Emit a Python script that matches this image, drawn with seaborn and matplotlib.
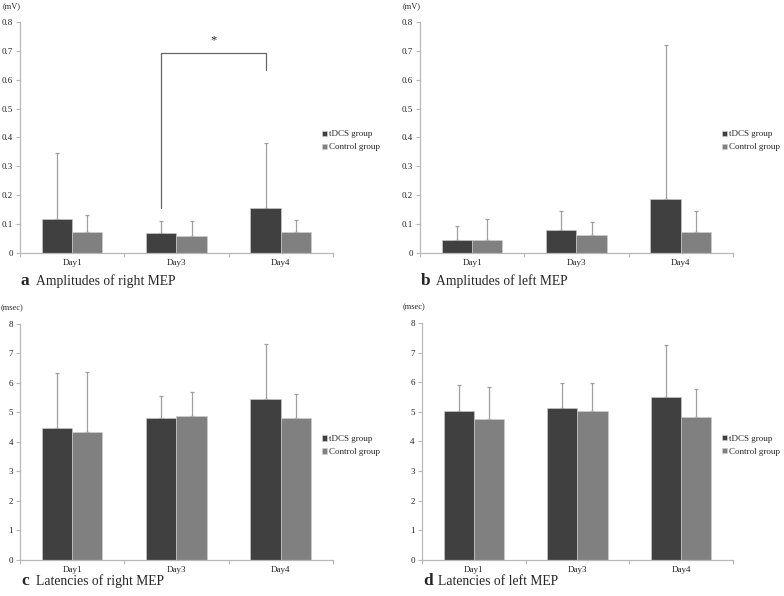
import numpy as np
import pandas as pd
import seaborn as sns
import matplotlib.pyplot as plt

days = ['Day1', 'Day3', 'Day4']
groups = ['tDCS group', 'Control group']

# a: amplitudes of right MEP (mV)
amp_right_tdcs = [0.118, 0.069, 0.157]
amp_right_ctrl = [0.074, 0.060, 0.072]
amp_right_tdcs_sd = [0.228, 0.042, 0.224]
amp_right_ctrl_sd = [0.057, 0.051, 0.043]

# b: amplitudes of left MEP (mV)
amp_left_tdcs = [0.045, 0.078, 0.186]
amp_left_ctrl = [0.046, 0.062, 0.073]
amp_left_tdcs_sd = [0.048, 0.067, 0.535]
amp_left_ctrl_sd = [0.072, 0.044, 0.071]

# c: latencies of right MEP (msec)
lat_right_tdcs = [4.48, 4.83, 5.46]
lat_right_ctrl = [4.33, 4.88, 4.83]
lat_right_tdcs_sd = [1.85, 0.72, 1.87]
lat_right_ctrl_sd = [2.05, 0.81, 0.81]

# d: latencies of left MEP (msec)
lat_left_tdcs = [5.03, 5.14, 5.50]
lat_left_ctrl = [4.76, 5.04, 4.84]
lat_left_tdcs_sd = [0.88, 0.84, 1.77]
lat_left_ctrl_sd = [1.09, 0.94, 0.92]

# significance bracket in panel a (Day3 vs Day4, tDCS)
sig_bracket_y = 0.692
sig_left_low = 0.156
sig_right_low = 0.634
sig_star_y = 0.737

panels = [
    ('a', 'Amplitudes of right MEP', '(mV)', amp_right_tdcs, amp_right_ctrl,
     amp_right_tdcs_sd, amp_right_ctrl_sd, 0.8, 0.1, [0.0255, 0.5755, 0.399, 0.3876], -28),
    ('b', 'Amplitudes of left MEP', '(mV)', amp_left_tdcs, amp_left_ctrl,
     amp_left_tdcs_sd, amp_left_ctrl_sd, 0.8, 0.1, [0.5357, 0.5755, 0.399, 0.3876], -28),
    ('c', 'Latencies of right MEP', '(msec)', lat_right_tdcs, lat_right_ctrl,
     lat_right_tdcs_sd, lat_right_ctrl_sd, 8, 1, [0.0255, 0.0604, 0.399, 0.396], -21),
    ('d', 'Latencies of left MEP', '(msec)', lat_left_tdcs, lat_left_ctrl,
     lat_left_tdcs_sd, lat_left_ctrl_sd, 8, 1, [0.538, 0.0604, 0.397, 0.3977], -21),
]

sns.set_theme(style='white')
plt.rcParams['font.family'] = ['Liberation Serif', 'DejaVu Serif']

palette = {'tDCS group': '#404040', 'Control group': '#808080'}
axis_col = '#b8b8b8'
err_col = '#a0a0a0'

fig = plt.figure(figsize=(7.84, 5.96), dpi=100)

for letter, title, unit, v1, v2, e1, e2, ymax, step, pos, lab_off in panels:
    ax = fig.add_axes(pos)
    df = pd.DataFrame({
        'day': days * 2,
        'group': [groups[0]] * 3 + [groups[1]] * 3,
        'value': v1 + v2,
    })
    sns.barplot(data=df, x='day', y='value', hue='group', palette=palette,
                errorbar=None, width=0.58, saturation=1, edgecolor='#d0d0d0',
                linewidth=0.4, ax=ax, zorder=2)

    # upward-only error bars
    for cont, errs in zip(ax.containers, [e1, e2]):
        xs = [b.get_x() + b.get_width() / 2 for b in cont]
        ys = [b.get_height() for b in cont]
        ax.errorbar(xs, ys, yerr=[np.zeros(len(errs)), errs], fmt='none',
                    ecolor=err_col, elinewidth=0.9, capsize=1.5, capthick=0.9, zorder=1)

    ax.set_xlim(-0.5, 2.5)
    ax.set_ylim(0, ymax)
    ticks = np.arange(0, ymax + step / 2, step)
    ax.set_yticks(ticks)
    if step < 1:
        ax.set_yticklabels(['0'] + ['%.1f' % t for t in ticks[1:]])
    else:
        ax.set_yticklabels(['%d' % t for t in ticks])
    ax.set_xticks([-0.5, 0.5, 1.5, 2.5], minor=True)
    ax.tick_params(axis='x', which='major', length=0, labelsize=6.5, pad=4, colors='#222222')
    ax.tick_params(axis='x', which='minor', length=3, width=0.8, color=axis_col, bottom=True)
    ax.tick_params(axis='y', length=3, width=0.8, labelsize=6.5, pad=2,
                   left=True, colors='#222222')
    ax.tick_params(axis='y', color=axis_col)
    for s in ['top', 'right']:
        ax.spines[s].set_visible(False)
    for s in ['left', 'bottom']:
        ax.spines[s].set_color(axis_col)
        ax.spines[s].set_linewidth(0.9)
    ax.set_xlabel('')
    ax.set_ylabel('')

    sns.move_legend(ax, loc='center left', bbox_to_anchor=(0.965, 0.485), frameon=False,
                    borderaxespad=0, borderpad=0, title=None, fontsize=6.5,
                    handlelength=0.55, handleheight=0.55, handletextpad=0.2,
                    labelspacing=0.55)

    ax.annotate(unit, xy=(0, 1), xycoords='axes fraction', xytext=(-8, 16),
                textcoords='offset pixels', ha='center', va='center', fontsize=6)
    ax.annotate(letter, xy=(0, 0), xycoords='axes fraction', xytext=(1, lab_off),
                textcoords='offset pixels', ha='left', va='center', fontsize=12.5,
                fontweight='bold')
    ax.annotate(title, xy=(0, 0), xycoords='axes fraction', xytext=(16, lab_off),
                textcoords='offset pixels', ha='left', va='center', fontsize=9.8)

    if letter == 'a':
        bars = ax.containers[0]
        x3 = bars[1].get_x() + bars[1].get_width() / 2
        x4 = bars[2].get_x() + bars[2].get_width() / 2
        ax.plot([x3, x3, x4, x4], [sig_left_low, sig_bracket_y, sig_bracket_y, sig_right_low],
                color='#666666', lw=0.9, zorder=3)
        ax.text((x3 + x4) / 2, sig_star_y, '*', ha='center', va='center', fontsize=9)

fig.savefig('out.png', dpi=100)
